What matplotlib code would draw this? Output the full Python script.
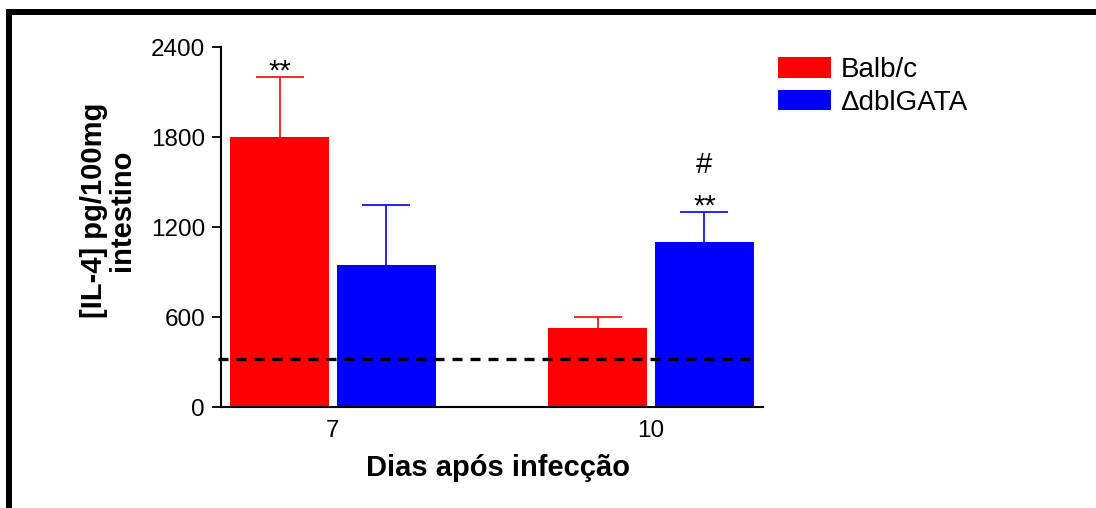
import matplotlib
matplotlib.use("Agg")
import matplotlib.pyplot as plt
from matplotlib.patches import Rectangle, Patch
import numpy as np

plt.rcParams['font.family'] = ['Liberation Sans', 'DejaVu Sans']

# Data: IL-4 concentration (pg/100mg intestine) by days after infection
days = ["7", "10"]
groups = ["Balb/c", "\u0394dblGATA"]
balbc_mean = [1800, 525]
balbc_sem = [400, 75]
dblgata_mean = [950, 1100]
dblgata_sem = [400, 200]
detection_limit = 320
yticks = [0, 600, 1200, 1800, 2400]

colors = ["#ff0000", "#0000ff"]

W, H = 1096, 508
fig = plt.figure(figsize=(W / 100, H / 100), dpi=100)

def px(x0, y0, x1, y1):
    # pixel box (top-left origin) -> figure fraction rect
    return [x0 / W, 1 - y1 / H, (x1 - x0) / W, (y1 - y0) / H]

ax = fig.add_axes(px(221, 47, 763, 407))

x = np.arange(len(days))
bw = 0.311
off = 0.168
means = [balbc_mean, dblgata_mean]
sems = [balbc_sem, dblgata_sem]
for i, (m, s, c) in enumerate(zip(means, sems, colors)):
    xi = x + (-off if i == 0 else off)
    ax.bar(xi, m, width=bw, color=c, zorder=2)
    # symmetric bars drawn behind the columns so only the upper half shows
    ax.errorbar(xi, m, yerr=s, fmt='none', ecolor=c,
                elinewidth=1.2, capsize=17.6, capthick=1.2, zorder=1)

# detection limit
ax.plot([-0.36, 1.327], [detection_limit, detection_limit], color='black',
        lw=2.4, linestyle=(0, (3, 2.4)), clip_on=False, zorder=4)

# significance marks
def mark(xv, yv, txt, dy):
    ax.annotate(txt, (xv, yv), xytext=(0, dy), textcoords='offset points',
                ha='center', va='baseline', fontsize=21)

mark(x[0] - off, balbc_mean[0] + balbc_sem[0], "**", -2)
mark(x[1] + off, dblgata_mean[1] + dblgata_sem[1], "**", -2)
mark(x[1] + off, dblgata_mean[1] + dblgata_sem[1], "#", 28)

ax.set_xlim(-0.352, 1.352)
ax.set_ylim(0, 2400)
ax.set_yticks(yticks)
ax.set_yticklabels([str(v) for v in yticks])
ax.set_xticks(x)
ax.set_xticklabels(days)
for s in ['top', 'right']:
    ax.spines[s].set_visible(False)
for s in ['left', 'bottom']:
    ax.spines[s].set_linewidth(1.5)
ax.tick_params(axis='y', length=6.5, width=1.3, pad=5, labelsize=17.5)
ax.tick_params(axis='x', length=0, pad=9.5, labelsize=17.5)

ax.set_ylabel("[IL-4] pg/100mg\nintestino", fontsize=21, fontweight='bold',
              va='center', linespacing=1.0)
ax.yaxis.set_label_coords((108 - 221) / 542, (407 - 210) / 360)
ax.set_xlabel("Dias após infecção", fontsize=21, fontweight='bold', va='top')
ax.xaxis.set_label_coords((498.5 - 221) / 542, (407 - 454) / 360)

handles = [Patch(facecolor=c, edgecolor='none') for c in colors]
fig.legend(handles, groups, loc='upper left', frameon=False, fontsize=20,
           bbox_to_anchor=(778 / W, 1 - 57 / H), borderaxespad=0,
           borderpad=0, handlelength=1.9, handleheight=0.76,
           handletextpad=0.35, labelspacing=0.24)

# frame lines
fig.add_artist(Rectangle((6 / W, 1 - 15 / H), 1, 6 / H, transform=fig.transFigure,
                         facecolor='black', edgecolor='none'))
fig.add_artist(Rectangle((6 / W, -0.1), 6 / W, 1.1 - 9 / H, transform=fig.transFigure,
                         facecolor='black', edgecolor='none'))

fig.savefig("out.png", dpi=100)
